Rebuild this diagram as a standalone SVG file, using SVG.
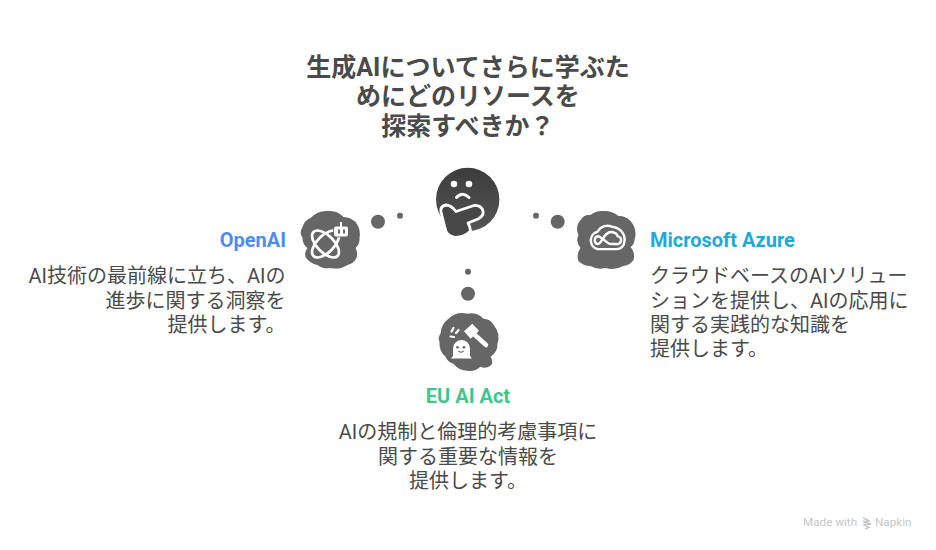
<svg xmlns="http://www.w3.org/2000/svg" width="936" height="550" viewBox="0 0 936 550">
<style>
text{font-family:Roboto,"Noto Sans CJK JP",sans-serif;fill:#4a4a4a}
.t{font-size:25px;font-weight:700;text-anchor:middle}
.h{font-size:20px;font-weight:700}
.b{font-size:20px}
.m{text-anchor:middle}.e{text-anchor:end}
.blob{fill:#666}
.dot{fill:#666}
.w{fill:none;stroke:#fff;stroke-width:2.700;stroke-linecap:round;stroke-linejoin:round}
.wf{fill:#fff}
.nk{font-size:11.700px;fill:#c6c6c6}
</style>
<defs>
<linearGradient id="g" x1="0" y1="0" x2="0" y2="1"><stop offset="0" stop-color="#3c3c3c"/><stop offset="1" stop-color="#555"/></linearGradient>
</defs>
<g id="title">
<text class="t" x="468" y="75.500">生成AIについてさらに学ぶた</text>
<text class="t" x="468" y="104.500">めにどのリソースを</text>
<text class="t" x="468" y="134.500">探索すべきか？</text>
</g>
<g id="connectors">
<circle class="dot" cx="378" cy="221.700" r="7"/><circle class="dot" cx="400" cy="215.700" r="3"/>
<circle class="dot" cx="536" cy="215.700" r="3"/><circle class="dot" cx="557.700" cy="221.700" r="7"/>
<circle class="dot" cx="468" cy="271.700" r="3"/><circle class="dot" cx="468" cy="293.700" r="7"/>
</g>
<g id="center">
<circle cx="467.700" cy="199.500" r="31.700" fill="url(#g)"/>
<circle class="wf" cx="454" cy="184" r="3.300"/><circle class="wf" cx="469" cy="184" r="3.300"/>
<path d="M456.500 197.500Q462.500 191 469 197.500" fill="none" stroke="#fff" stroke-width="3" stroke-linecap="round"/>
<path d="M441 212Q440 206 446 205Q451 205 456 211.500L474 205.500Q481 205 483 211Q484 216 478 219L468 223Q470 226 470.500 231Q464 237.500 455 237.300Q446 236 445 228Z" fill="#474747" stroke="#fff" stroke-width="2.800" stroke-linejoin="round"/>
</g>
<g id="openai">
<path class="blob" transform="translate(330.500 239)" d="M-28-12A14 14 0 0 1-20-21A22 22 0 0 1-2-28A18 18 0 0 1 13-22A18 18 0 0 1 25-17A20 20 0 0 1 29-1A12 12 0 0 1 25 9A12 12 0 0 1 26 19A14 14 0 0 1 17 26A22 22 0 0 1 0 29A16 16 0 0 1-13 26A18 18 0 0 1-25 18A10 10 0 0 1-23 9A12 12 0 0 1-28-1A10 10 0 0 1-28-12Z"/>
<g class="w">
<ellipse cx="325.500" cy="244" rx="17" ry="8.500" transform="rotate(45 325.500 244)"/>
<ellipse cx="325.500" cy="244" rx="17" ry="8.500" transform="rotate(-45 325.500 244)"/>
</g>
<rect x="334" y="226.500" width="14" height="10" rx="2" fill="#fff" stroke="#666" stroke-width="1.500" paint-order="stroke"/>
<rect class="wf" x="340" y="222" width="2" height="5"/>
<rect x="338" y="229.500" width="2" height="4" fill="#666"/><rect x="343" y="229.500" width="2" height="4" fill="#666"/>
</g>
<g id="azure">
<path class="blob" transform="translate(606.500 239)" d="M-26-19A10 10 0 0 1-16-24A18 18 0 0 1-3-28A22 22 0 0 1 12-23A16 16 0 0 1 24-18A20 20 0 0 1 28 1A9 9 0 0 1 24 8A14 14 0 0 1 27 21A14 14 0 0 1 17 27A24 24 0 0 1-1 29A20 20 0 0 1-16 27A16 16 0 0 1-28 22A14 14 0 0 1-26 9A12 12 0 0 1-28-4A14 14 0 0 1-26-19Z"/>
<g transform="translate(606.500 238.500) scale(1.120) translate(-606 -238.500)">
<path d="M598 248A8 8 0 0 1 598 232.500C601 227 607 226 611 228C618 229 623 234 622 241A7 7 0 0 1 615 248Z" fill="none" stroke="#fff" stroke-width="2.200" stroke-linejoin="round"/>
<path d="M598 243.500A3.700 3.700 0 0 1 598 236.500C602 236.500 606 243.500 610 243.500H615A3.500 3.500 0 0 0 616 236.500C615 232.500 609 231.500 606 234.500C602 238 601 243.500 598 243.500Z" fill="none" stroke="#fff" stroke-width="2.200" stroke-linejoin="round"/>
</g>
</g>
<g id="euact">
<path class="blob" transform="translate(468.500 341.700)" d="M-28-8A20 20 0 0 1-20-23A20 20 0 0 1-1-28A18 18 0 0 1 15-23A12 12 0 0 1 25-17A20 20 0 0 1 29 2A15 15 0 0 1 22 15A8 8 0 0 1 23 23A10 10 0 0 1 12 25A16 16 0 0 1-1 29A18 18 0 0 1-15 22A12 12 0 0 1-23 15A18 18 0 0 1-29 0A8 8 0 0 1-28-8Z"/>
<path class="wf" d="M472.300 323.700L479 330.700L470.700 338.700L464 331.300Z"/>
<path d="M475 335L486 345" stroke="#fff" stroke-width="4.500" stroke-linecap="round"/>
<path class="wf" d="M453 356V348.500A8.500 8.500 0 0 1 470 348.500V356L472 358.500H451Z"/>
<circle cx="457.500" cy="347.300" r="1.300" fill="#666"/><circle cx="464" cy="347.300" r="1.300" fill="#666"/>
<path d="M458.500 351Q461 353.500 463.500 351" fill="none" stroke="#666" stroke-width="1.100"/>
<path d="M451.500 331.500l2-3.500M456 333l2.500-3M454 337l-3.500-.5" stroke="#fff" stroke-width="2.200" stroke-linecap="round"/>
</g>
<g id="openai-text">
<text class="h e" x="286" y="247" style="fill:#4f8bf0">OpenAI</text>
<text class="b e" x="285.500" y="283">AI技術の最前線に立ち、AIの</text>
<text class="b e" x="285.500" y="308">進歩に関する洞察を</text>
<text class="b e" x="285.500" y="332">提供します。</text>
</g>
<g id="azure-text">
<text class="h" x="650" y="247" style="fill:#1fa9d8">Microsoft Azure</text>
<text class="b" x="650" y="283">クラウドベースのAIソリュー</text>
<text class="b" x="650" y="308">ションを提供し、AIの応用に</text>
<text class="b" x="650" y="332">関する実践的な知識を</text>
<text class="b" x="650" y="356">提供します。</text>
</g>
<g id="euact-text">
<text class="h m" x="468" y="403" style="fill:#3cc88c">EU AI Act</text>
<text class="b m" x="468" y="439">AIの規制と倫理的考慮事項に</text>
<text class="b m" x="468" y="464">関する重要な情報を</text>
<text class="b m" x="468" y="488">提供します。</text>
</g>
<g id="watermark">
<text class="nk" x="803" y="526">Made with</text>
<path d="M863 518l7 3-7 .5 8 2.500-7 1 5 2.500-4 1.500" fill="none" stroke="#c6c6c6" stroke-width="1.400"/>
<text class="nk" x="875" y="526">Napkin</text>
</g>
</svg>
